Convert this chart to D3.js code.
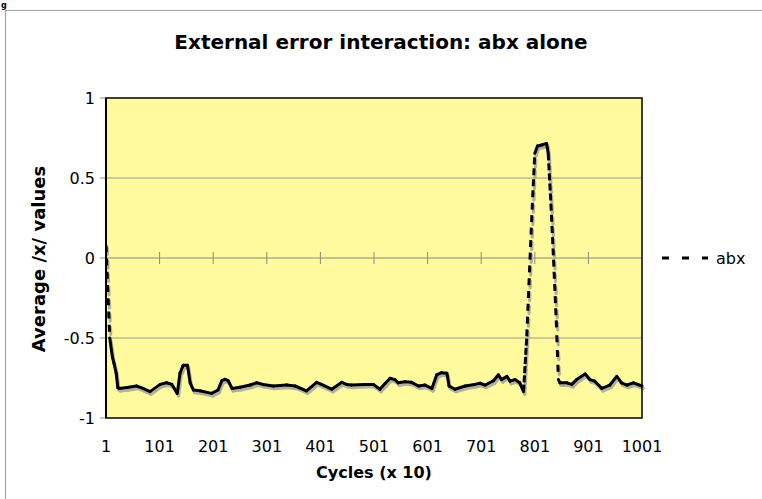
<!DOCTYPE html>
<html><head><meta charset="utf-8">
<script src="https://cdn.jsdelivr.net/npm/d3@7"></script>
<style>body{margin:0;background:#fff}svg{display:block}</style>
</head><body>
<svg id="c" width="762" height="499"></svg>
<script>
// ---- data ----
const titleText = "External error interaction: abx alone";
const xTitle = "Cycles (x 10)";
const yTitle = "Average /x/ values";
const seriesName = "abx";
const xTickValues = [1,101,201,301,401,501,601,701,801,901,1001];
const xTickLabels = ["1","101","201","301","401","501","601","701","801","901","1001"];
const yTickValues = [-1,-0.5,0,0.5,1];
const yTickLabels = ["-1","-0.5","0","0.5","1"];
const cycles = [1,8,13,16,20,23,26,40,58,70,83,102,114,124,134,139,145,153,158,164,176,198,210,217,223,229,236,251,270,282,294,313,338,354,375,394,403,422,441,450,459,484,500,512,522,531,540,546,559,571,584,596,609,618,627,637,641,652,671,689,699,708,724,733,739,749,755,764,773,780,786,792,797,801,806,814,823,826,831,836,841,845,848,861,870,879,895,904,913,926,941,954,963,973,985,1001];
const abx = [0.08,-0.5,-0.62,-0.66,-0.72,-0.81,-0.815,-0.81,-0.80,-0.815,-0.835,-0.79,-0.78,-0.79,-0.846,-0.72,-0.67,-0.67,-0.78,-0.825,-0.83,-0.846,-0.825,-0.767,-0.758,-0.767,-0.815,-0.808,-0.794,-0.78,-0.79,-0.80,-0.794,-0.80,-0.83,-0.777,-0.79,-0.82,-0.777,-0.79,-0.794,-0.79,-0.79,-0.82,-0.783,-0.752,-0.76,-0.78,-0.773,-0.777,-0.80,-0.794,-0.815,-0.73,-0.717,-0.72,-0.80,-0.82,-0.80,-0.79,-0.783,-0.794,-0.767,-0.73,-0.76,-0.74,-0.77,-0.76,-0.78,-0.835,-0.49,-0.01,0.38,0.654,0.70,0.706,0.716,0.654,0.34,-0.01,-0.39,-0.76,-0.78,-0.78,-0.79,-0.76,-0.725,-0.76,-0.77,-0.815,-0.794,-0.74,-0.78,-0.794,-0.78,-0.80];

// ---- layout ----
const svg = d3.select("#c");
const L = 106, R = 642, T = 98, B = 418;
const x = d3.scaleLinear().domain([1,1001]).range([L,R]);
const y = d3.scaleLinear().domain([-1,1]).range([B,T]);
const font = "'DejaVu Sans', Verdana, sans-serif";

// outer chart frame
svg.append("rect").attr("x",5.5).attr("y",10.5).attr("width",900).attr("height",700)
  .attr("fill","#fff").attr("stroke","#a6a6a6").attr("stroke-width",1.2);

// stray glyph from text above the chart
svg.append("text").attr("x",1).attr("y",8).attr("font-family",font).attr("font-weight","bold")
  .attr("font-size",8).attr("fill","#000").text("g");

// title
svg.append("text").attr("x",381).attr("y",49).attr("text-anchor","middle")
  .attr("font-family",font).attr("font-weight","bold").attr("font-size",20)
  .attr("fill","#000").text(titleText);

// plot area
svg.append("rect").attr("x",L).attr("y",T).attr("width",R-L).attr("height",B-T).attr("fill","#FFFA9E");

// gridlines (non-zero)
svg.append("g").selectAll("line").data(yTickValues.filter(v=>v!==0 && Math.abs(v)!==1)).join("line")
  .attr("x1",L).attr("x2",R).attr("y1",d=>y(d)).attr("y2",d=>y(d))
  .attr("stroke","#9a9a8a").attr("stroke-width",1);

// zero axis with ticks
svg.append("line").attr("x1",L).attr("x2",R).attr("y1",y(0)).attr("y2",y(0))
  .attr("stroke","#8a8a7a").attr("stroke-width",1);
svg.append("g").selectAll("line").data(xTickValues.slice(1,-1)).join("line")
  .attr("x1",d=>x(d)).attr("x2",d=>x(d)).attr("y1",y(0)-6).attr("y2",y(0)+6)
  .attr("stroke","#8a8a7a").attr("stroke-width",1);

// y axis ticks (outside)
svg.append("g").selectAll("line").data(yTickValues).join("line")
  .attr("x1",L-6).attr("x2",L).attr("y1",d=>y(d)).attr("y2",d=>y(d))
  .attr("stroke","#888").attr("stroke-width",1);

// y tick labels
svg.append("g").selectAll("text").data(yTickValues).join("text")
  .attr("x",L-11).attr("y",d=>y(d)).attr("dy","0.36em").attr("text-anchor","end")
  .attr("font-family",font).attr("font-size",16).attr("fill","#000")
  .text((d,i)=>yTickLabels[i]);

// x tick labels
svg.append("g").selectAll("text").data(xTickValues).join("text")
  .attr("x",d=>x(d)).attr("y",452).attr("text-anchor","middle")
  .attr("font-family",font).attr("font-size",16).attr("fill","#000")
  .text((d,i)=>xTickLabels[i]);

// axis titles
svg.append("text").attr("x",374).attr("y",478).attr("text-anchor","middle")
  .attr("font-family",font).attr("font-weight","bold").attr("font-size",16).text(xTitle);
svg.append("text").attr("transform","translate(45,259) rotate(-90)").attr("text-anchor","middle")
  .attr("font-family",font).attr("font-weight","bold").attr("font-size",18).text(yTitle);

// clip
svg.append("clipPath").attr("id","clip").append("rect").attr("x",L).attr("y",T-10).attr("width",R-L+4).attr("height",B-T+14);

// series: each data segment drawn separately, dash pattern restarting every cycle (as Excel does)
function dashFor(p){
  if(p<=7) return null;
  const base=[7,13]; const out=[]; let rem=p, i=0;
  while(rem>0.01){const v=Math.min(base[i%2],rem); out.push(v.toFixed(2)); rem-=v; i++;}
  if(out.length%2===1) out.push(0);
  return out.join(",");
}
const segs = d3.range(cycles.length-1).map(i=>{
  const x1=x(cycles[i]), y1=y(abx[i]), x2=x(cycles[i+1]), y2=y(abx[i+1]);
  const len=Math.hypot(x2-x1,y2-y1), k=cycles[i+1]-cycles[i];
  return {x1,y1,x2,y2,dash:dashFor(len/k)};
});
const gLine = svg.append("g").attr("clip-path","url(#clip)");
gLine.append("g").attr("transform","translate(1.2,2.6)").selectAll("line").data(segs).join("line")
  .attr("x1",d=>d.x1).attr("y1",d=>d.y1).attr("x2",d=>d.x2).attr("y2",d=>d.y2)
  .attr("stroke","#b0b0a0").attr("stroke-width",3.2).attr("stroke-linecap","round")
  .attr("stroke-dasharray",d=>d.dash);
gLine.append("g").selectAll("line").data(segs).join("line")
  .attr("x1",d=>d.x1).attr("y1",d=>d.y1).attr("x2",d=>d.x2).attr("y2",d=>d.y2)
  .attr("stroke","#000").attr("stroke-width",3).attr("stroke-linecap",d=>d.dash?"butt":"round")
  .attr("stroke-dasharray",d=>d.dash);

// plot border
svg.append("rect").attr("x",L).attr("y",T).attr("width",R-L).attr("height",B-T)
  .attr("fill","none").attr("stroke","#000").attr("stroke-width",1.5);
svg.append("line").attr("x1",L).attr("x2",L).attr("y1",T).attr("y2",B).attr("stroke","#000").attr("stroke-width",2);

// legend
svg.append("line").attr("x1",662).attr("x2",708).attr("y1",258).attr("y2",258)
  .attr("stroke","#000").attr("stroke-width",3).attr("stroke-dasharray","7,13");
svg.append("text").attr("x",716).attr("y",258).attr("dy","0.36em")
  .attr("font-family",font).attr("font-size",16).attr("fill","#000").text(seriesName);
</script>
</body></html>
